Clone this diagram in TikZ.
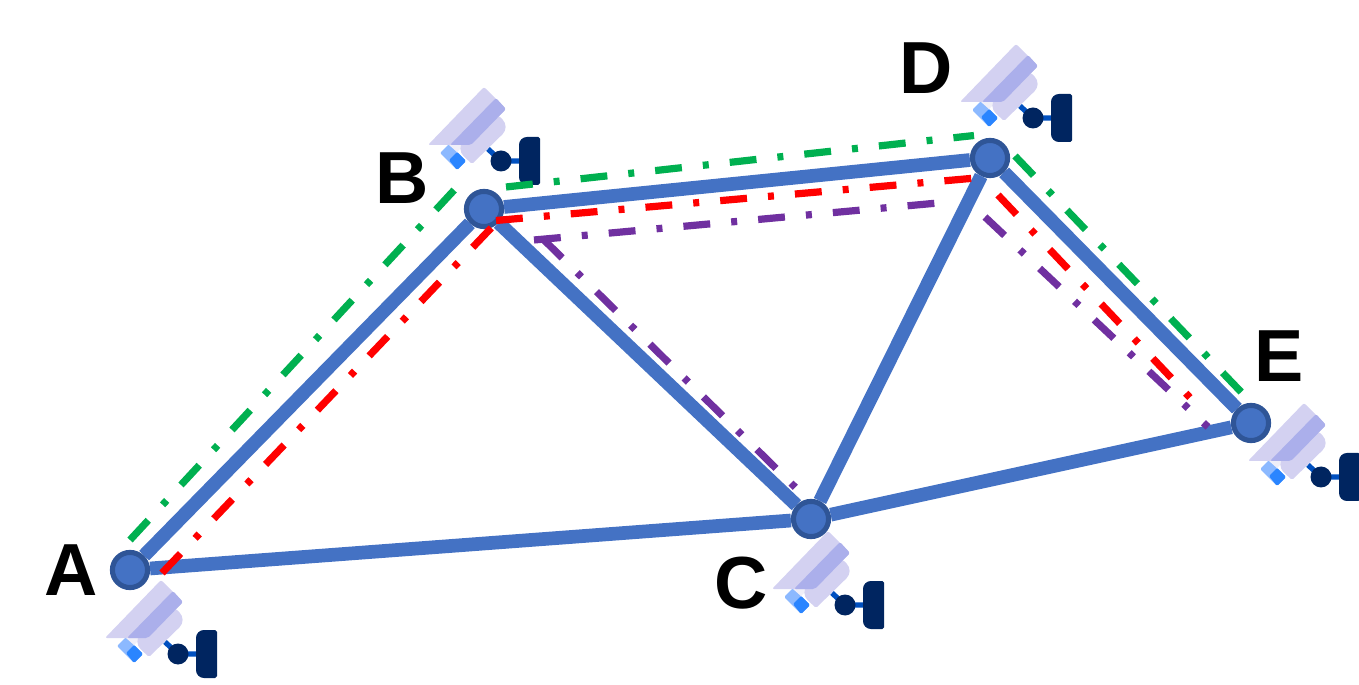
\documentclass[tikz,border=0pt]{standalone}
\usepackage{fontspec}
\setmainfont{Liberation Sans}
\definecolor{linkblue}{HTML}{4472C4}
\definecolor{ringblue}{HTML}{2F5597}
\definecolor{routegreen}{HTML}{00B050}
\definecolor{routepurple}{HTML}{7030A0}
\definecolor{camlight}{HTML}{D3D1F1}
\definecolor{camdark}{HTML}{ABAFEB}
\definecolor{campale}{HTML}{F0EFF8}
\definecolor{lenslight}{HTML}{8CB9FF}
\definecolor{lensdark}{HTML}{2A85FF}
\definecolor{camnavy}{HTML}{002560}
\definecolor{camarm}{HTML}{0050C0}
\tikzset{
  station/.style={circle, draw=ringblue, fill=linkblue, line width=2.9pt, minimum size=20pt, inner sep=0pt},
  link/.style={draw=linkblue, line width=7.8pt},
  route/.style={line width=4.1pt, dash pattern=on 15.3pt off 12pt on 3.4pt off 12pt},
  stationname/.style={font=\fontsize{42}{42}\selectfont\bfseries, inner sep=0pt},
  camera/.pic={
    \fill[lenslight, rounded corners=.8pt] (-61,-8) -- (-52,-17) -- (-35,0) -- (-44,9) -- cycle;
    \fill[lensdark, rounded corners=.8pt] (-52,-1) -- (-44,-9) -- (-35,0) -- (-44,9) -- cycle;
    \fill[campale] (-52,-16) -- (-37,-16) -- (-44,-9) -- cycle;
    \fill[camlight] [rounded corners=1pt] (-45,-12) -- (-29,3) [rounded corners=6pt] -- (9,-34) -- (-8,-51) -- cycle;
    \fill[camlight, rounded corners=1.2pt] (-17,-74) -- (5,-52) -- (-30,-16) -- (-73,-16) -- cycle;
    \fill[camdark, rounded corners=1.2pt] (-5,-63) -- (5,-52) -- (-30,-16) -- (-51,-16) -- cycle;
    \draw[camarm, line width=3pt] (-13,-12) -- (0,0) -- (20,0);
    \fill[camnavy] (0,0) circle (10.5);
    \fill[camnavy] (39,-24) [rounded corners=1pt] -- (39,24) [rounded corners=4.5pt] -- (18,24) -- (18,-24) [rounded corners=1pt] -- cycle;
  }
}

\begin{document}
\begin{tikzpicture}[x=0.02cm, y=-0.02cm]
  \useasboundingbox (0,0) rectangle (1359,685);
  \pic at (178,654) {camera};
  \pic at (501,161) {camera};
  \pic at (845,605) {camera};
  \pic at (1033,118) {camera};
  \pic at (1321,477) {camera};
  \node (A) [station] at (130,570) {};
  \node (B) [station] at (484,209) {};
  \node (C) [station] at (811,519) {};
  \node (D) [station] at (990,158) {};
  \node (E) [station] at (1251,423) {};
  \node (labelA) [stationname] at (71,570) {A};
  \node (labelB) [stationname] at (402,178) {B};
  \node (labelC) [stationname] at (741,583) {C};
  \node (labelD) [stationname] at (926,68) {D};
  \node (labelE) [stationname] at (1279,356) {E};
  \draw[link] (A) to (B);
  \draw[link] (A) to (C);
  \draw[link] (B) to (C);
  \draw[link] (B) to (D);
  \draw[link] (C) to (D);
  \draw[link] (C) to (E);
  \draw[link] (D) to (E);
  \coordinate (g1) at (130,540);
  \coordinate (g2) at (457,187);
  \coordinate (g3) at (506,187);
  \coordinate (g4) at (974,135.5);
  \coordinate (g5) at (1015,156);
  \coordinate (g6) at (1244,395);
  \coordinate (r1) at (162,573);
  \coordinate (r2) at (494,225);
  \coordinate (r3) at (496,220.5);
  \coordinate (r4) at (976,178);
  \coordinate (r5) at (998,195);
  \coordinate (r6) at (1196,404);
  \coordinate (p1) at (534,240);
  \coordinate (p2) at (938,203);
  \coordinate (p3) at (543,239);
  \coordinate (p4) at (800,492);
  \coordinate (p5) at (985,217);
  \coordinate (p6) at (1208,427);
  \draw[route, routegreen] (g1) to (g2);
  \draw[route, routegreen] (g3) to (g4);
  \draw[route, routegreen] (g5) to (g6);
  \draw[route, red] (r1) to (r2);
  \draw[route, red] (r3) to (r4);
  \draw[route, red] (r5) to (r6);
  \draw[route, routepurple] (p1) to (p2);
  \draw[route, routepurple] (p3) to (p4);
  \draw[route, routepurple] (p5) to (p6);
\end{tikzpicture}
\end{document}
